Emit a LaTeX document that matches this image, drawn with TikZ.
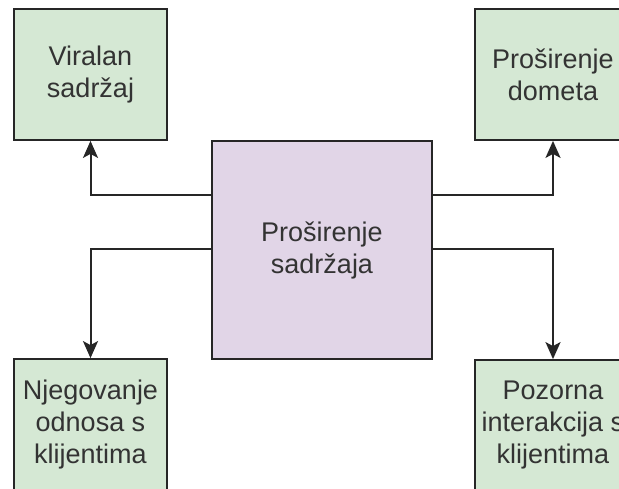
\documentclass[tikz,border=0pt]{standalone}
\usepackage{fontspec}
\setmainfont{Liberation Sans}
\usetikzlibrary{arrows.meta}

\definecolor{boxgreen}{HTML}{D5E8D4}
\definecolor{boxpurple}{HTML}{E1D5E7}
\definecolor{txtgray}{HTML}{333333}

\begin{document}
\begin{tikzpicture}[x=1pt,y=1pt,
    box/.style={draw=black!85,line width=1.8pt,align=center,inner sep=0pt,
        text=txtgray,font=\fontsize{27}{32}\selectfont},
    leaf/.style={box,fill=boxgreen,minimum width=153,minimum height=131},
    hub/.style={box,fill=boxpurple,minimum width=220,minimum height=218},
    tip/.tip={Stealth[length=17pt,width=15pt,inset=4pt]},
    arr/.style={line width=2pt,draw=black!85,-tip}]
    \useasboundingbox (0,0) rectangle (619,-488);
    \clip (0,0) rectangle (619,-488);
    \fill[white] (0,0) rectangle (619,-488);
    \node[hub] (ctr) at (322,-250) {Proširenje\\sadržaja};
    \node[leaf] (viral) at (90.5,-74.5) {Viralan\\sadržaj};
    \node[leaf,minimum width=156] (domet) at (553,-74.5) {Proširenje\\dometa};
    \node[leaf] (odnos) at (90.5,-424.5) {Njegovanje\\odnosa s\\klijentima};
    \node[leaf,minimum width=156] (pozor) at (553,-425.5) {Pozorna\\interakcija s\\klijentima};
    % connectors
    \draw[arr] ([yshift=55]ctr.west) -| (viral.south);
    \draw[arr] ([yshift=55]ctr.east) -| (domet.south);
    \draw[arr] ([yshift=1]ctr.west) -| (odnos.north);
    \draw[arr] ([yshift=1]ctr.east) -| (pozor.north);
\end{tikzpicture}
\end{document}
